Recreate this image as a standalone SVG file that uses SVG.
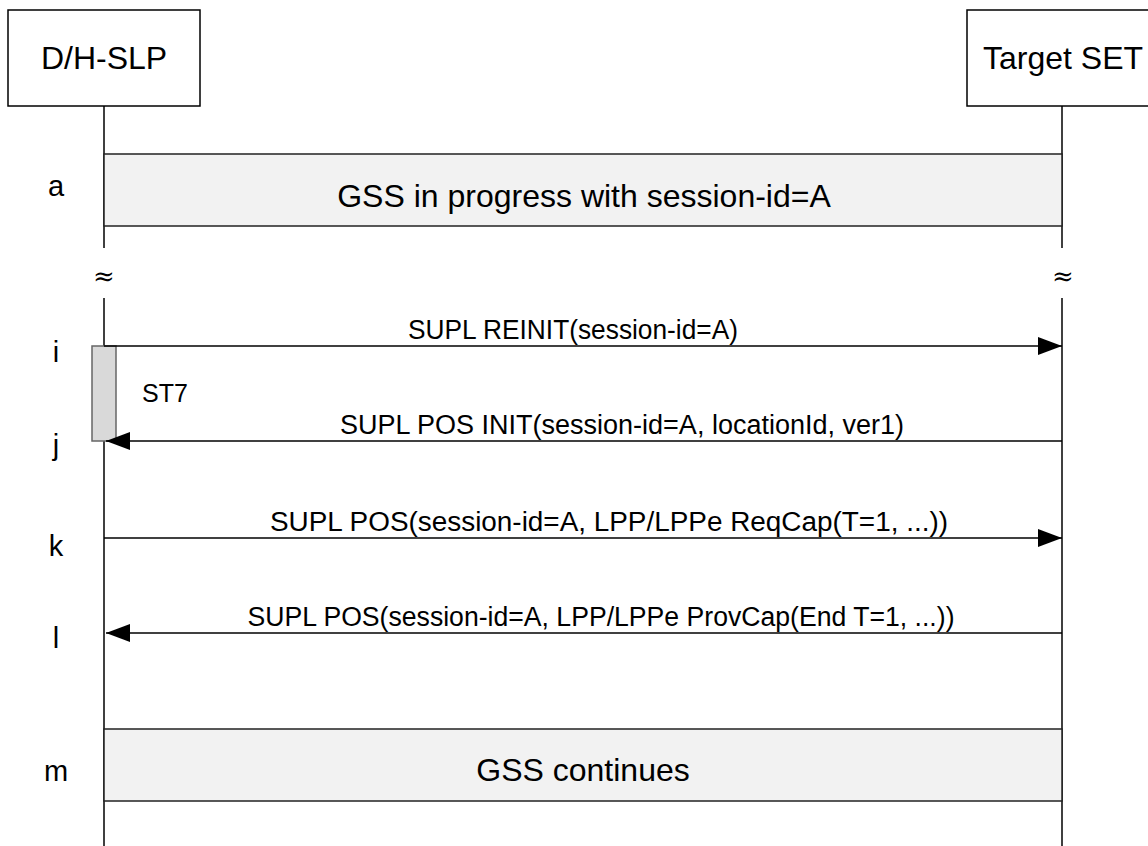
<svg xmlns="http://www.w3.org/2000/svg" width="1148" height="846" viewBox="0 0 1148 846">
<style>
text{font-family:"Liberation Sans",Arial,sans-serif;fill:#000}
.ent{font-size:32px;text-anchor:middle}
.step{font-size:29px;text-anchor:middle}
.msg{font-size:27px;text-anchor:middle}
.life{stroke:#000;stroke-width:1.5;fill:none}
.box{fill:#fff;stroke:#000;stroke-width:1.5}
.band{fill:#f2f2f2;stroke:#222;stroke-width:1.5}
.arrow{stroke:#000;stroke-width:1.5;fill:none}
</style>
<defs>
<marker id="ah" markerUnits="userSpaceOnUse" markerWidth="24" markerHeight="18" refX="24" refY="9" orient="auto">
<path d="M0,0 L24,9 L0,18 Z" fill="#000"/>
</marker>
</defs>
<rect width="1148" height="846" fill="#fff"/>
<g id="slp">
<rect class="box" x="8" y="10" width="192" height="96"/>
<text class="ent" x="104" y="69">D/H-SLP</text>
</g>
<g id="set">
<rect class="box" x="967" y="10" width="192" height="96"/>
<text class="ent" x="1063" y="69">Target SET</text>
</g>
<g id="lifelines">
<line class="life" x1="104" y1="106" x2="104" y2="248"/>
<line class="life" x1="104" y1="298" x2="104" y2="846"/>
<line class="life" x1="1062" y1="106" x2="1062" y2="248"/>
<line class="life" x1="1062" y1="298" x2="1062" y2="846"/>
<text x="104" y="285" font-size="26" text-anchor="middle" style="font-family:'DejaVu Serif',serif">≈</text>
<text x="1063" y="285" font-size="26" text-anchor="middle" style="font-family:'DejaVu Serif',serif">≈</text>
</g>
<g id="stepA">
<rect class="band" x="104" y="154" width="958" height="72"/>
<text class="ent" x="584" y="207">GSS in progress with session-id=A</text>
<text class="step" x="56" y="196">a</text>
</g>
<g id="timer">
<rect x="92" y="346" width="24" height="95" fill="#d9d9d9" stroke="#666" stroke-width="1.5"/>
<text x="142" y="402" font-size="25">ST7</text>
</g>
<g id="connectors">
<line class="arrow" x1="104" y1="346" x2="1062" y2="346" marker-end="url(#ah)"/>
<text class="msg" x="573" y="339" textLength="330" lengthAdjust="spacingAndGlyphs">SUPL REINIT(session-id=A)</text>
<line class="arrow" x1="1062" y1="441" x2="106" y2="441" marker-end="url(#ah)"/>
<text class="msg" x="622" y="434">SUPL POS INIT(session-id=A, locationId, ver1)</text>
<line class="arrow" x1="104" y1="538" x2="1062" y2="538" marker-end="url(#ah)"/>
<text class="msg" x="609" y="531" textLength="678" lengthAdjust="spacingAndGlyphs">SUPL POS(session-id=A, LPP/LPPe ReqCap(T=1, ...))</text>
<line class="arrow" x1="1062" y1="633" x2="106" y2="633" marker-end="url(#ah)"/>
<text class="msg" x="601" y="626" textLength="707" lengthAdjust="spacingAndGlyphs">SUPL POS(session-id=A, LPP/LPPe ProvCap(End T=1, ...))</text>
</g>
<g id="labels">
<text class="step" x="56" y="362">i</text>
<text class="step" x="56" y="455">j</text>
<text class="step" x="56" y="556">k</text>
<text class="step" x="56" y="648">l</text>
</g>
<g id="stepM">
<rect class="band" x="104" y="729" width="958" height="72"/>
<text class="ent" x="583" y="781">GSS continues</text>
<text class="step" x="56" y="781">m</text>
</g>
</svg>
